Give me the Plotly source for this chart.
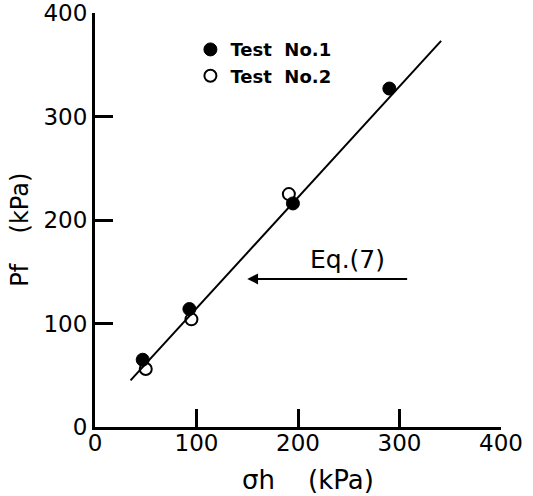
import plotly.graph_objects as go

# Data
test1_x = [47, 93, 195, 290]
test1_y = [65, 114, 216, 327]
test2_x = [50, 95, 191]
test2_y = [56, 104, 225]
eq7_x = [35, 341]
eq7_y = [45, 373]
ticks = [0, 100, 200, 300, 400]
arrow_tail = (309, 143)
arrow_head = (150, 143)
eq_label_pos = (249, 162)

FONT = "DejaVu Sans"

fig = go.Figure()
fig.add_trace(go.Scatter(x=eq7_x, y=eq7_y, mode="lines",
                         line=dict(color="black", width=2), showlegend=False))
fig.add_trace(go.Scatter(x=test1_x, y=test1_y, mode="markers", name="Test  No.1",
                         marker=dict(symbol="circle", size=13, color="black",
                                     line=dict(color="black", width=1))))
fig.add_trace(go.Scatter(x=test2_x, y=test2_y, mode="markers", name="Test  No.2",
                         marker=dict(symbol="circle-open", size=12, color="black",
                                     line=dict(color="black", width=2))))

fig.add_annotation(x=arrow_head[0], y=arrow_head[1], ax=arrow_tail[0], ay=arrow_tail[1],
                   xref="x", yref="y", axref="x", ayref="y", text="", showarrow=True,
                   arrowhead=2, arrowsize=1.2, arrowwidth=1.8, arrowcolor="black")
fig.add_annotation(x=eq_label_pos[0], y=eq_label_pos[1], xref="x", yref="y",
                   text="Eq.(7)", showarrow=False, xanchor="center",
                   font=dict(family=FONT, size=25, color="black"))

# Axis titles
fig.add_annotation(x=0.525, y=-0.128, xref="paper", yref="paper",
                   text="σh    (kPa)", showarrow=False, xanchor="center", yanchor="middle",
                   font=dict(family=FONT, size=26, color="black"))
fig.add_annotation(x=-0.185, y=0.476, xref="paper", yref="paper", textangle=-90,
                   text="Pf    (kPa)", showarrow=False, xanchor="center", yanchor="middle",
                   font=dict(family=FONT, size=24, color="black"))

axis_common = dict(range=[0, 400], tickvals=ticks, ticktext=[str(t) for t in ticks],
                   showline=True, linecolor="black", linewidth=3, mirror=False,
                   ticks="inside", ticklen=18, tickwidth=2.5, tickcolor="black",
                   showgrid=False, zeroline=False, automargin=False,
                   tickfont=dict(family=FONT, size=23, color="black"))

fig.update_layout(
    width=533, height=496,
    margin=dict(l=95, r=32, t=13, b=69),
    paper_bgcolor="white", plot_bgcolor="white",
    font=dict(family=FONT, color="black"),
    xaxis=dict(**axis_common, ticklabelstandoff=-7),
    yaxis=dict(**axis_common, ticklabelstandoff=0),
    legend=dict(x=0.235, y=0.956, xanchor="left", yanchor="top",
                bgcolor="rgba(0,0,0,0)", tracegroupgap=0,
                font=dict(family=FONT, size=18, color="black", weight="bold")),
)

fig.write_html("out.html")
